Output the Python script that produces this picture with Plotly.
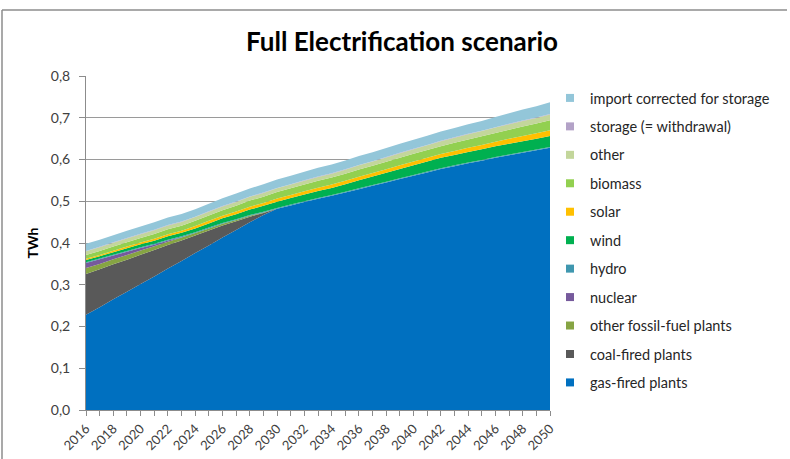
import plotly.graph_objects as go

years = list(range(2016, 2051))

gas = [0.228, 0.246, 0.265, 0.283, 0.302, 0.320, 0.339, 0.357, 0.376, 0.394,
       0.413, 0.431, 0.450, 0.467, 0.482, 0.490, 0.498, 0.506, 0.513, 0.521,
       0.529, 0.537, 0.545, 0.553, 0.561, 0.569, 0.577, 0.584, 0.591, 0.597,
       0.604, 0.610, 0.616, 0.622, 0.628]
coal = [0.098, 0.091, 0.084, 0.077, 0.070, 0.063, 0.056, 0.049, 0.042, 0.036,
        0.029, 0.021, 0.013, 0.005, 0.0] + [0.0] * 20
other_fossil = [0.014, 0.013, 0.012, 0.011, 0.010, 0.009, 0.008, 0.007, 0.006, 0.005,
                0.004, 0.003, 0.002, 0.001, 0.0] + [0.0] * 20
nuclear = [0.012, 0.011, 0.009, 0.008, 0.006, 0.004, 0.003, 0.001] + [0.0] * 27
hydro = [0.002] * 35
wind = [0.005, 0.0055, 0.006, 0.0065, 0.007, 0.0075, 0.008, 0.0085, 0.009, 0.010,
        0.011, 0.012, 0.013, 0.014, 0.015, 0.0155, 0.016, 0.0165, 0.017, 0.018,
        0.019, 0.020, 0.021, 0.022, 0.023, 0.024, 0.025, 0.025, 0.025, 0.0255,
        0.0255, 0.0255, 0.026, 0.026, 0.026]
solar = [0.003, 0.003, 0.0035, 0.004, 0.004, 0.0045, 0.005, 0.005, 0.0055, 0.006,
         0.006, 0.0065, 0.007, 0.007, 0.0075, 0.0075, 0.008, 0.008, 0.008, 0.008,
         0.0085, 0.0085, 0.0085, 0.009, 0.009, 0.009, 0.009, 0.0095, 0.010, 0.0105,
         0.011, 0.012, 0.0125, 0.013, 0.014]
biomass = [0.009, 0.0095, 0.010, 0.0105, 0.011, 0.0115, 0.012, 0.012, 0.0125, 0.013,
           0.0135, 0.014, 0.0145, 0.015, 0.0155, 0.016, 0.016, 0.0165, 0.017, 0.017,
           0.0175, 0.0175, 0.018, 0.018, 0.0185, 0.0185, 0.019, 0.0195, 0.020, 0.0205,
           0.021, 0.022, 0.0225, 0.023, 0.024]
other = [0.009] * 19 + [0.0095, 0.010, 0.010, 0.0105, 0.011, 0.011, 0.0115, 0.012,
                        0.012, 0.0125, 0.0125, 0.013, 0.013, 0.0135, 0.0135, 0.014]
storage = [0.001] * 35
imports = [0.017, 0.017, 0.017, 0.0175, 0.0175, 0.018, 0.018, 0.018, 0.018, 0.018,
           0.0185, 0.019, 0.019, 0.0195, 0.020, 0.020, 0.0205, 0.021, 0.021,
           0.021, 0.0215, 0.0215, 0.0215, 0.022, 0.022, 0.022, 0.022,
           0.0225, 0.023, 0.0235, 0.024, 0.025, 0.026, 0.027, 0.028]

series = [
    ("gas-fired plants", gas, "#0070C0"),
    ("coal-fired plants", coal, "#595959"),
    ("other fossil-fuel plants", other_fossil, "#86A443"),
    ("nuclear", nuclear, "#765A9C"),
    ("hydro", hydro, "#3F97AF"),
    ("wind", wind, "#00B050"),
    ("solar", solar, "#FFC000"),
    ("biomass", biomass, "#92D050"),
    ("other", other, "#C3D69B"),
    ("storage (= withdrawal)", storage, "#B3A2C7"),
    ("import corrected for storage", imports, "#93C6D9"),
]

FONT = "Lato"
fig = go.Figure()
for i, (name, vals, col) in enumerate(series):
    fig.add_trace(go.Scatter(
        x=years, y=vals, name=name, stackgroup="one", mode="none",
        fillcolor=col, line=dict(width=0, color=col), showlegend=False,
    ))
# legend entries (square swatches), top to bottom as in the reference
for i, (name, vals, col) in enumerate(series):
    fig.add_trace(go.Scatter(
        x=[None], y=[None], name=name, mode="markers",
        marker=dict(symbol="square", size=8, color=col),
        legendgroup=f"g{i}", legendrank=100 - i, showlegend=True,
    ))

PH = 334.0
PW = 464.0
fig.update_layout(
    width=790, height=459,
    margin=dict(l=86, r=240, t=76, b=49, autoexpand=False),
    paper_bgcolor="white", plot_bgcolor="white",
    separators=", ",
    font=dict(family=FONT, size=13, color="#404040"),
    title=dict(text="<b>Full Electrification scenario</b>", x=402 / 790, xanchor="center",
               xref="container", yref="container", y=1 - 42 / 459, yanchor="middle",
               font=dict(family=FONT, size=26, color="black")),
    showlegend=True,
    legend=dict(x=(550 - 86) / PW, xanchor="left", y=(410 - 82) / PH, yanchor="top",
                traceorder="grouped", tracegroupgap=6.6,
                font=dict(family=FONT, size=14.5, color="#262626"),
                bgcolor="rgba(0,0,0,0)"),
    xaxis=dict(range=[2016, 2050], tickmode="linear", tick0=2016, dtick=2,
               tickangle=-45, showgrid=False, showline=True, linecolor="#8C8C8C",
               ticks="outside", ticklen=5, tickcolor="#8C8C8C",
               minor=dict(dtick=1, ticks="outside", ticklen=5, tickcolor="#8C8C8C"),
               tickfont=dict(family=FONT, size=13, color="#404040"), zeroline=False),
    yaxis=dict(range=[0, 0.8], tickmode="linear", tick0=0, dtick=0.1, tickformat=".1f",
               showgrid=True, gridcolor="#9A9A9A", gridwidth=1, showline=True,
               linecolor="#8C8C8C", ticks="outside", ticklen=6, tickcolor="#8C8C8C",
               ticklabelstandoff=6,
               tickfont=dict(family=FONT, size=14, color="#404040"), zeroline=False,
               title=dict(text="<b>TWh</b>", standoff=8,
                          font=dict(family=FONT, size=14, color="black"))),
)

# outer chart frame (left and top edges)
fx0 = (2 - 86) / PW
fx1 = (787 - 86) / PW
fy = (410 - 10) / PH
fig.add_shape(type="line", xref="paper", yref="paper",
              x0=fx0, x1=fx0, y0=fy, y1=-0.3,
              line=dict(color="#8C8C8C", width=1.5))
fig.add_shape(type="line", xref="paper", yref="paper",
              x0=fx0, x1=fx1, y0=fy, y1=fy,
              line=dict(color="#8C8C8C", width=1.5))

fig.write_html("out.html", config={"displayModeBar": False},
               post_script="document.body.style.margin='0';document.body.style.overflow='hidden';")
